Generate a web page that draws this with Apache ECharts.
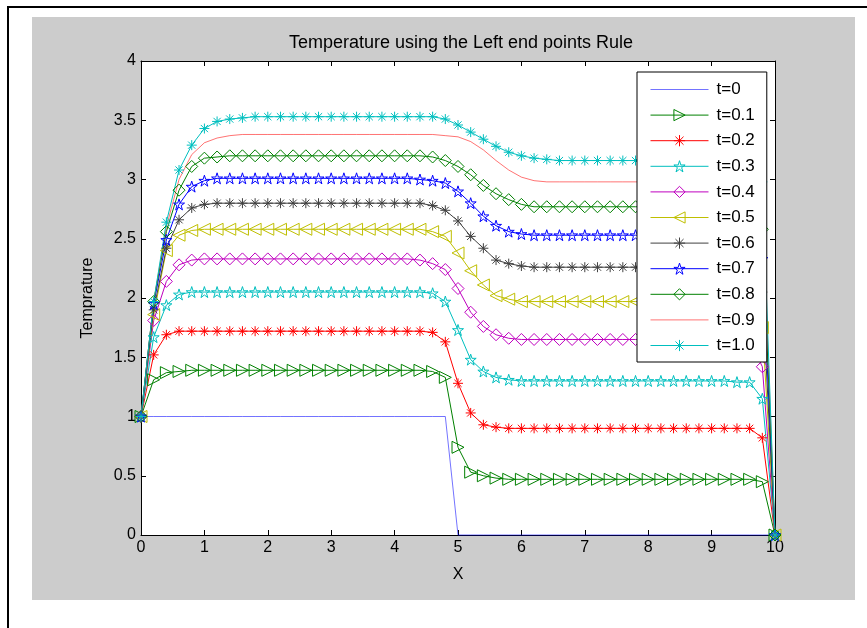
<!DOCTYPE html>
<html>
<head>
<meta charset="utf-8">
<script src="https://cdn.jsdelivr.net/npm/echarts@6/dist/echarts.min.js"></script>
<style>html,body{margin:0;padding:0;background:#fff}#c{width:867px;height:628px}</style>
</head>
<body>
<div id="c"></div>
<script>
var xValues = [0,0.2,0.4,0.6,0.8,1,1.2,1.4,1.6,1.8,2,2.2,2.4,2.6,2.8,3,3.2,3.4,3.6,3.8,4,4.2,4.4,4.6,4.8,5,5.2,5.4,5.6,5.8,6,6.2,6.4,6.6,6.8,7,7.2,7.4,7.6,7.8,8,8.2,8.4,8.6,8.8,9,9.2,9.4,9.6,9.8,10];

var t00 = [1,1,1,1,1, 1,1,1,1,1, 1,1,1,1,1, 1,1,1,1,1, 1,1,1,1,1, 0,0,0,0,0, 0,0,0,0,0, 0,0,0,0,0, 0,0,0,0,0, 0,0,0,0,0, 0];
var t01 = [1,1.31,1.37,1.38,1.39, 1.39,1.39,1.39,1.39,1.39, 1.39,1.39,1.39,1.39,1.39, 1.39,1.39,1.39,1.39,1.39, 1.39,1.39,1.39,1.38,1.33, 0.74,0.53,0.50,0.48,0.47, 0.47,0.47,0.47,0.47,0.47, 0.47,0.47,0.47,0.47,0.47, 0.47,0.47,0.47,0.47,0.47, 0.47,0.47,0.47,0.47,0.45, 0];
var t02 = [1,1.52,1.69,1.72,1.72, 1.72,1.72,1.72,1.72,1.72, 1.72,1.72,1.72,1.72,1.72, 1.72,1.72,1.72,1.72,1.72, 1.72,1.72,1.72,1.71,1.63, 1.28,1.03,0.93,0.91,0.90, 0.90,0.90,0.90,0.90,0.90, 0.90,0.90,0.90,0.90,0.90, 0.90,0.90,0.90,0.90,0.90, 0.90,0.90,0.90,0.90,0.82, 0];
var t03 = [1,1.67,1.94,2.03,2.05, 2.05,2.05,2.05,2.05,2.05, 2.05,2.05,2.05,2.05,2.05, 2.05,2.05,2.05,2.05,2.05, 2.05,2.05,2.05,2.04,1.97, 1.73,1.48,1.38,1.33,1.31, 1.30,1.30,1.30,1.30,1.30, 1.30,1.30,1.30,1.30,1.30, 1.30,1.30,1.30,1.30,1.30, 1.30,1.30,1.29,1.29,1.15, 0];
var t04 = [1,1.81,2.14,2.28,2.32, 2.33,2.33,2.33,2.33,2.33, 2.33,2.33,2.33,2.33,2.33, 2.33,2.33,2.33,2.33,2.33, 2.33,2.33,2.32,2.29,2.24, 2.08,1.88,1.76,1.69,1.66, 1.65,1.65,1.65,1.65,1.65, 1.65,1.65,1.65,1.65,1.65, 1.65,1.65,1.65,1.65,1.65, 1.65,1.65,1.65,1.65,1.42, 0];
var t05 = [1,1.86,2.40,2.53,2.57, 2.58,2.58,2.58,2.58,2.58, 2.58,2.58,2.58,2.58,2.58, 2.58,2.58,2.58,2.58,2.58, 2.58,2.58,2.58,2.56,2.52, 2.38,2.23,2.11,2.02,1.99, 1.97,1.97,1.97,1.97,1.97, 1.97,1.97,1.97,1.97,1.97, 1.97,1.97,1.97,1.97,1.97, 1.97,1.97,1.97,1.96,1.75, 0];
var t06 = [1,1.90,2.42,2.66,2.76, 2.79,2.80,2.80,2.80,2.80, 2.80,2.80,2.80,2.80,2.80, 2.80,2.80,2.80,2.80,2.80, 2.80,2.80,2.80,2.78,2.74, 2.65,2.52,2.42,2.32,2.29, 2.27,2.26,2.26,2.26,2.26, 2.26,2.26,2.26,2.26,2.26, 2.26,2.26,2.26,2.26,2.26, 2.26,2.26,2.26,2.25,2.05, 0];
var t07 = [1,1.95,2.49,2.79,2.94, 2.99,3.01,3.01,3.01,3.01, 3.01,3.01,3.01,3.01,3.01, 3.01,3.01,3.01,3.01,3.01, 3.01,3.01,3.00,2.99,2.97, 2.90,2.80,2.69,2.61,2.56, 2.54,2.53,2.53,2.53,2.53, 2.53,2.53,2.53,2.53,2.53, 2.53,2.53,2.53,2.53,2.53, 2.53,2.53,2.53,2.52,2.33, 0];
var t08 = [1,1.97,2.56,2.91,3.11, 3.18,3.19,3.20,3.20,3.20, 3.20,3.20,3.20,3.20,3.20, 3.20,3.20,3.20,3.20,3.20, 3.20,3.20,3.20,3.19,3.16, 3.11,3.04,2.95,2.88,2.83, 2.79,2.77,2.77,2.77,2.77, 2.77,2.77,2.77,2.77,2.77, 2.77,2.77,2.77,2.77,2.77, 2.77,2.77,2.77,2.76,2.58, 0];
var t09 = [1,1.97,2.60,3.00,3.21, 3.31,3.35,3.37,3.38,3.38, 3.38,3.38,3.38,3.38,3.38, 3.38,3.38,3.38,3.38,3.38, 3.38,3.38,3.38,3.38,3.37, 3.36,3.32,3.25,3.16,3.08, 3.02,2.99,2.98,2.98,2.98, 2.98,2.98,2.98,2.98,2.98, 2.98,2.98,2.98,2.98,2.98, 2.98,2.98,2.98,2.97,2.80, 0];
var t10 = [1,1.97,2.64,3.08,3.29, 3.43,3.49,3.51,3.52,3.53, 3.53,3.53,3.53,3.53,3.53, 3.53,3.53,3.53,3.53,3.53, 3.53,3.53,3.53,3.53,3.51, 3.46,3.40,3.34,3.28,3.23, 3.20,3.18,3.17,3.16,3.16, 3.16,3.16,3.16,3.16,3.16, 3.16,3.16,3.16,3.16,3.16, 3.16,3.16,3.16,3.15,2.98, 0];

var seriesNames = ['t=0','t=0.1','t=0.2','t=0.3','t=0.4','t=0.5','t=0.6','t=0.7','t=0.8','t=0.9','t=1.0'];
var seriesValues = [t00,t01,t02,t03,t04,t05,t06,t07,t08,t09,t10];

var STAR = 'path://M0,-1L0.2245,-0.309L0.951,-0.309L0.3633,0.118L0.5878,0.809L0,0.382L-0.5878,0.809L-0.3633,0.118L-0.951,-0.309L-0.2245,-0.309Z';
var ASTER = 'path://M0,-1L0,1M-1,0L1,0M-0.72,-0.72L0.72,0.72M-0.72,0.72L0.72,-0.72';
var styles = [
  {c:'#0000ff', sym:'none', op:0.55},
  {c:'#008000', sym:'triangle', rot:-90, size:12},
  {c:'#ff0000', sym:ASTER, size:10},
  {c:'#00bfbf', sym:STAR, size:11},
  {c:'#bf00bf', sym:'diamond', size:12},
  {c:'#bfbf00', sym:'triangle', rot:90, size:12},
  {c:'#404040', sym:ASTER, size:10},
  {c:'#0000ff', sym:STAR, size:11},
  {c:'#008000', sym:'diamond', size:12},
  {c:'#ff0000', sym:'none', op:0.55},
  {c:'#00bfbf', sym:ASTER, size:10}
];

var FONT = '"Liberation Sans", Arial, sans-serif';
var CLEAR = 'rgba(0,0,0,0)';
var series = seriesNames.map(function(name, k){
  var st = styles[k];
  var vals = seriesValues[k];
  var none = st.sym === 'none';
  return {
    name: name,
    type: 'line',
    data: xValues.map(function(x, i){ return [x, vals[i]]; }),
    symbol: none ? 'circle' : st.sym,
    symbolSize: st.size || 1,
    symbolRotate: st.rot || 0,
    showSymbol: !none,
    showAllSymbol: true,
    clip: false,
    lineStyle: {color: st.c, width: 1, opacity: st.op || 1},
    itemStyle: {color: CLEAR, borderColor: none ? CLEAR : st.c, borderWidth: none ? 0 : 1},
    emphasis: {disabled: true}
  };
});
var legendData = seriesNames.map(function(name, k){
  var st = styles[k];
  var none = st.sym === 'none';
  return {name: name, itemStyle: {color: CLEAR, borderColor: none ? CLEAR : st.c, borderWidth: none ? 0 : 1},
          lineStyle: {color: st.c, width: 1, opacity: st.op || 1}};
});

var chart = echarts.init(document.getElementById('c'), null, {renderer: 'canvas'});
var axisCommon = {
  axisLine: {show: true, onZero: false, lineStyle: {color: '#000', width: 1}},
  axisTick: {show: true, inside: true, length: 5, lineStyle: {color: '#000', width: 1}},
  splitLine: {show: false}
};
chart.setOption({
  animation: false,
  backgroundColor: '#ffffff',
  graphic: [
    {type: 'rect', z: -10, silent: true, shape: {x: 32, y: 17, width: 823, height: 583}, style: {fill: '#cccccc'}},
    {type: 'line', z: -9, silent: true, shape: {x1: 8, y1: 7, x2: 8, y2: 628}, style: {stroke: '#000', lineWidth: 2}},
    {type: 'line', z: -9, silent: true, shape: {x1: 7, y1: 7, x2: 867, y2: 7}, style: {stroke: '#000', lineWidth: 2}}
  ],
  title: {
    text: 'Temperature using the Left end points Rule',
    left: 456, top: 29, textAlign: 'center',
    textStyle: {fontFamily: FONT, fontSize: 18, fontWeight: 'normal', color: '#000'}
  },
  grid: {left: 141, top: 61, width: 634, height: 474, show: true, backgroundColor: '#ffffff', borderWidth: 0},
  legend: {
    orient: 'vertical', left: 637, top: 72,
    padding: [9, 12, 8, 13],
    itemWidth: 58, itemHeight: 14, itemGap: 8.6,
    backgroundColor: '#ffffff', borderColor: '#000', borderWidth: 1,
    textStyle: {fontFamily: FONT, fontSize: 17, color: '#000', padding: [0,0,0,3], lineHeight: 14},
    data: legendData
  },
  xAxis: [
    Object.assign({type: 'value', min: 0, max: 10, interval: 1, position: 'bottom',
      name: 'X', nameLocation: 'middle', nameGap: 32,
      nameTextStyle: {fontFamily: FONT, fontSize: 16, color: '#000'},
      axisLabel: {fontFamily: FONT, fontSize: 16, color: '#000', margin: 5}}, axisCommon),
    Object.assign({type: 'value', min: 0, max: 10, interval: 1, position: 'top', axisLabel: {show: false}}, axisCommon)
  ],
  yAxis: [
    Object.assign({type: 'value', min: 0, max: 4, interval: 0.5, position: 'left',
      name: 'Temprature', nameLocation: 'middle', nameGap: 45,
      nameTextStyle: {fontFamily: FONT, fontSize: 16, color: '#000'},
      axisLabel: {fontFamily: FONT, fontSize: 16, color: '#000', margin: 5}}, axisCommon),
    Object.assign({type: 'value', min: 0, max: 4, interval: 0.5, position: 'right', axisLabel: {show: false}}, axisCommon)
  ],
  series: series
});
</script>
</body>
</html>
